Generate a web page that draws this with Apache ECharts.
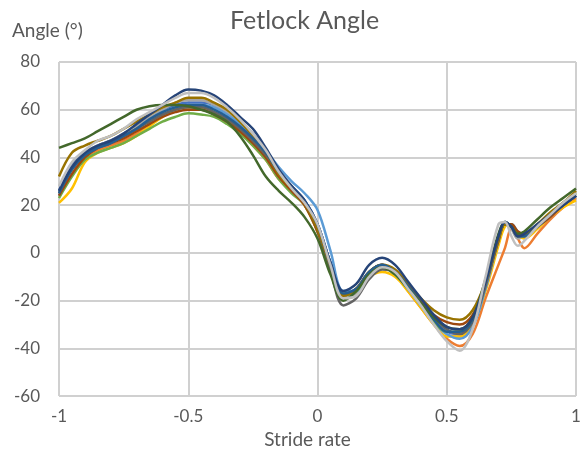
<!DOCTYPE html>
<html>
<head>
<meta charset="utf-8">
<script src="https://cdn.jsdelivr.net/npm/echarts@6/dist/echarts.min.js"></script>
<style>html,body{margin:0;padding:0;background:#fff}#c{width:585px;height:454px}</style>
</head>
<body>
<div id="c"></div>
<script>
const strideX = [-1,-0.95,-0.9,-0.85,-0.8,-0.75,-0.7,-0.65,-0.6,-0.55,-0.5,-0.45,-0.4,-0.35,-0.3,-0.25,-0.2,-0.15,-0.1,-0.05,0,0.05,0.1,0.15,0.2,0.25,0.3,0.35,0.4,0.45,0.5,0.55,0.6,0.65,0.7,0.725,0.75,0.775,0.8,0.85,0.9,0.95,1];

const blue      = [26,37,42,45,47,50,53,57,60,62,63,63,62,59,55,50,43,34,27,22,12,-4,-17,-15,-8,-5,-8,-14,-21,-28,-33,-34,-29,-14,4,12,12,8,7,11,16,20,24];
const orange    = [24,33,40,43,45,47,50,54,57,60,61,61,59,56,51,45,39,31,26,20,9,-6,-18,-16,-9,-6,-9,-16,-23,-30,-36,-39,-34,-19,-5,2,10,6,2,8,14,19,23];
const gray      = [25,36,42,45,47,50,53,57,60,63,64,64,62,59,54,48,41,33,27,21,11,-5,-18,-17,-9,-6,-8,-15,-22,-29,-34,-35,-30,-14,7,13,10,6,7,11,16,20,24];
const yellow    = [21,27,38,42,44,46,49,53,57,60,61,61,59,56,52,46,40,32,26,20,9,-6,-17,-16,-10,-8,-10,-16,-23,-30,-35,-35,-30,-16,3,11,12,8,6,10,15,19,22];
const lightBlue = [24,35,41,44,46,49,52,56,59,61,62,62,61,58,54,49,43,36,30,25,18,1,-16,-16,-9,-6,-9,-15,-22,-29,-34,-36,-31,-15,5,12,12,9,7,11,15,20,24];
const green     = [23,32,39,42,44,46,49,52,55,57,58.5,58,57,54,50,45,39,31,25,20,9,-6,-18,-16,-9,-6,-9,-15,-22,-29,-33,-33,-28,-13,5,12,11,7,7,11,16,21,25];
const brown     = [24,33,40,44,46,48,51,54,57,59,60,60,58,55,51,46,40,32,26,20,9,-6,-18,-15,-8,-5,-8,-14,-20,-26,-29,-30,-26,-13,5,12,12,9,8,11,15,20,24];
const darkGray  = [25,35,41,44,46,49,52,55,58,60,61,61,59,56,52,47,41,34,27,21,10,-7,-22,-19,-11,-7,-8,-14,-21,-27,-32,-34,-29,-14,6,12,11,7,7,11,16,20,24];
const olive     = [32,42,45,47,49,52,55,58,61,63,65,65,63,60,55,49,42,33,27,21,10,-5,-18,-15,-8,-5,-7,-13,-19,-24,-27,-28,-24,-12,6,12,11,8,8,12,17,21,26];
const steel     = [25,35,41,44,46,49,52,56,59,61,62,62,60,57,53,48,42,34,28,22,12,-4,-17,-15,-8,-5,-8,-14,-21,-28,-33,-33,-28,-12,7,13,11,7,7,11,16,20,24];
const darkGreen = [44,46,48,51,54,57,60,61.5,62,62,61.5,60,58,55,49,41,32,26,21,15,6,-9,-20,-16,-9,-6,-9,-15,-21,-27,-31,-32,-27,-11,8,13,11,8,9,14,19,23,27];
const darkBlue  = [26,36,42,45,47,50,54,58,62,66,68.5,68,66,62,57,52,44,35,28,22,12,-4,-16,-13,-5,-2,-5,-12,-19,-26,-31,-32,-27,-12,7,13,11,7,8,12,16,20,24];
const silver    = [28,38,43,47,49,52,56,59,62,65,67,67,65,61,56,50,43,34,27,21,12,-5,-19,-18,-10,-6,-8,-15,-22,-30,-37,-41,-32,-10,12,13,7,3,5,11,16,21,25];

const seriesList = [
  ['blue', blue, '#4472C4'],
  ['orange', orange, '#ED7D31'],
  ['gray', gray, '#A5A5A5'],
  ['yellow', yellow, '#FFC000'],
  ['lightBlue', lightBlue, '#5B9BD5'],
  ['green', green, '#70AD47'],
  ['brown', brown, '#9E480E'],
  ['darkGray', darkGray, '#636363'],
  ['olive', olive, '#997300'],
  ['steel', steel, '#255E91'],
  ['darkGreen', darkGreen, '#43682B'],
  ['darkBlue', darkBlue, '#264478'],
  ['silver', silver, '#C0C0C0']
];

const xTicks = [-1, -0.5, 0, 0.5, 1];
const yTicks = [-60, -40, -20, 0, 20, 40, 60, 80];

const chart = echarts.init(document.getElementById('c'), null, {renderer: 'canvas'});
const txt = '#595959';
const font = 'Lato, "Liberation Sans", sans-serif';
chart.setOption({
  animation: false,
  backgroundColor: '#fff',
  title: {
    text: 'Fetlock Angle', left: 225, top: 3,
    textStyle: {fontFamily: font, fontSize: 25, fontWeight: 'normal', color: txt}
  },
  graphic: [{
    type: 'text', left: 12, top: 21,
    style: {text: 'Angle (°)', font: '19px ' + font, fill: txt}
  }],
  grid: {left: 59, right: 9, top: 62, bottom: 56, containLabel: false},
  xAxis: {
    type: 'value', min: -1, max: 1, interval: 0.5,
    name: 'Stride rate', nameLocation: 'middle', nameGap: 26,
    nameTextStyle: {fontFamily: font, fontSize: 19, color: txt, padding: [0, 20, 0, 0]},
    axisLine: {show: false}, axisTick: {show: false},
    axisLabel: {fontFamily: font, fontSize: 17, color: txt, margin: 12,
      formatter: v => xTicks.includes(v) ? String(v) : ''},
    splitLine: {show: true, lineStyle: {color: '#D0D0D0', width: 2}}
  },
  yAxis: {
    type: 'value', min: -60, max: 80, interval: 20,
    axisLine: {show: false}, axisTick: {show: false},
    axisLabel: {fontFamily: font, fontSize: 17, color: txt, margin: 19,
      formatter: v => yTicks.includes(v) ? String(v) : ''},
    splitLine: {show: true, lineStyle: {color: '#D0D0D0', width: 2}}
  },
  series: seriesList.map(([name, vals, color]) => ({
    name, type: 'line', smooth: 0.35, showSymbol: false,
    data: strideX.map((x, i) => [x, vals[i]]),
    lineStyle: {color, width: 2.5},
    itemStyle: {color}
  }))
});
</script>
</body>
</html>
